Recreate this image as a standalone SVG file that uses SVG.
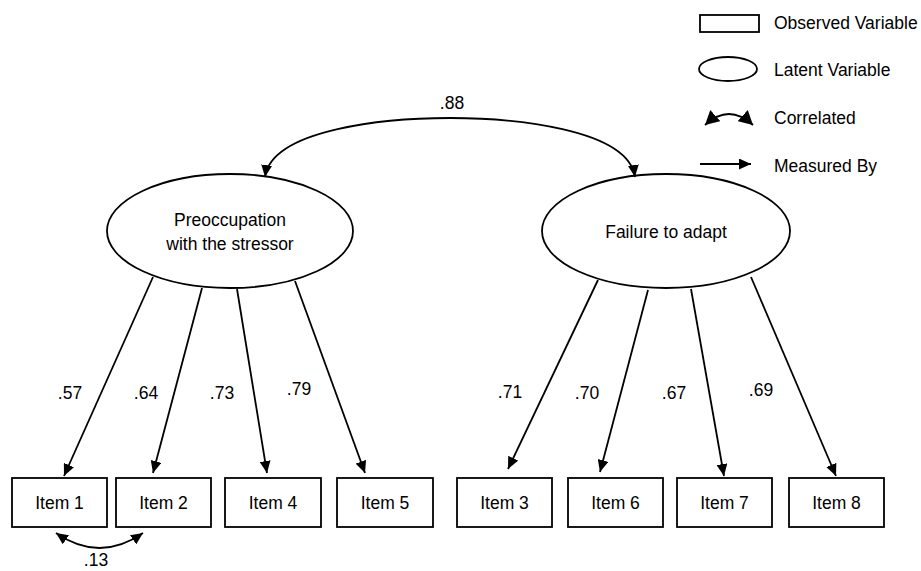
<svg xmlns="http://www.w3.org/2000/svg" width="921" height="571" viewBox="0 0 921 571">
<style>
  text { font-family: "Liberation Sans", Arial, sans-serif; font-size: 17.5px; fill: #000; }
  .c { text-anchor: middle; }
  .box { fill: #fff; stroke: #000; stroke-width: 1.8; }
  .ell { fill: #fff; stroke: #000; stroke-width: 1.8; }
  .ln { fill: none; stroke: #000; stroke-width: 1.8; }
</style>
<defs>
  <marker id="ah" markerUnits="userSpaceOnUse" markerWidth="13" markerHeight="11" refX="12" refY="5.5" orient="auto-start-reverse">
    <path d="M0,0 L12,5.5 L0,11 z" fill="#000"/>
  </marker>
  <marker id="ahL" markerUnits="userSpaceOnUse" markerWidth="15" markerHeight="15" refX="14" refY="7.5" orient="auto-start-reverse">
    <path d="M0,0 L14,7.5 L0,15 z" fill="#000"/>
  </marker>
</defs>
<rect width="921" height="571" fill="#fff"/>

<g id="legend">
  <rect class="box" x="700" y="15" width="59" height="17"/>
  <text x="774" y="29">Observed Variable</text>
  <ellipse class="ell" cx="728" cy="69" rx="29" ry="12"/>
  <text x="774" y="76">Latent Variable</text>
  <path class="ln" d="M705,125 Q729,103 753,125" marker-start="url(#ahL)" marker-end="url(#ahL)"/>
  <text x="774" y="124">Correlated</text>
  <line class="ln" x1="700" y1="164" x2="751" y2="164" marker-end="url(#ah)"/>
  <text x="774" y="172">Measured By</text>
</g>

<g id="f1">
  <ellipse class="ell" cx="230" cy="231" rx="123" ry="57"/>
  <text class="c" x="230" y="226">Preoccupation</text>
  <text class="c" x="230" y="250">with the stressor</text>
</g>
<g id="f2">
  <ellipse class="ell" cx="666" cy="231" rx="124" ry="57"/>
  <text class="c" x="666" y="238">Failure to adapt</text>
</g>

<g id="item1"><rect class="box" x="12" y="478" width="95" height="49"/><text class="c" x="59.5" y="509">Item 1</text></g>
<g id="item2"><rect class="box" x="116" y="478" width="95" height="49"/><text class="c" x="163.5" y="509">Item 2</text></g>
<g id="item4"><rect class="box" x="225" y="478" width="96" height="49"/><text class="c" x="273" y="509">Item 4</text></g>
<g id="item5"><rect class="box" x="337" y="478" width="96" height="49"/><text class="c" x="385" y="509">Item 5</text></g>
<g id="item3"><rect class="box" x="457" y="478" width="95" height="49"/><text class="c" x="504.5" y="509">Item 3</text></g>
<g id="item6"><rect class="box" x="568" y="478" width="95" height="49"/><text class="c" x="615.5" y="509">Item 6</text></g>
<g id="item7"><rect class="box" x="677" y="478" width="95" height="49"/><text class="c" x="724.5" y="509">Item 7</text></g>
<g id="item8"><rect class="box" x="789" y="478" width="95" height="49"/><text class="c" x="836.5" y="509">Item 8</text></g>

<g id="connectors">
  <path class="ln" d="M265,177 C272,128 390,118 450,118 C510,118 628,128 635,177" marker-start="url(#ah)" marker-end="url(#ah)"/>
  <line class="ln" x1="153" y1="277" x2="64" y2="476" marker-end="url(#ah)"/>
  <line class="ln" x1="202" y1="288" x2="153" y2="473" marker-end="url(#ah)"/>
  <line class="ln" x1="237" y1="289" x2="267" y2="473" marker-end="url(#ah)"/>
  <line class="ln" x1="295" y1="281" x2="365" y2="473" marker-end="url(#ah)"/>
  <line class="ln" x1="598" y1="280" x2="508" y2="469" marker-end="url(#ah)"/>
  <line class="ln" x1="648" y1="290" x2="600" y2="472" marker-end="url(#ah)"/>
  <line class="ln" x1="691" y1="289" x2="724" y2="476" marker-end="url(#ah)"/>
  <line class="ln" x1="751" y1="277" x2="836" y2="476" marker-end="url(#ah)"/>
  <path class="ln" d="M56,533 Q99.5,563 143,533" marker-start="url(#ah)" marker-end="url(#ah)"/>
  <text class="c" x="452" y="109">.88</text>
  <text class="c" x="70" y="399">.57</text>
  <text class="c" x="146" y="399">.64</text>
  <text class="c" x="222" y="399">.73</text>
  <text class="c" x="299" y="395">.79</text>
  <text class="c" x="510" y="398">.71</text>
  <text class="c" x="587" y="399">.70</text>
  <text class="c" x="674" y="399">.67</text>
  <text class="c" x="761" y="396">.69</text>
  <text class="c" x="96" y="566">.13</text>
</g>
</svg>
